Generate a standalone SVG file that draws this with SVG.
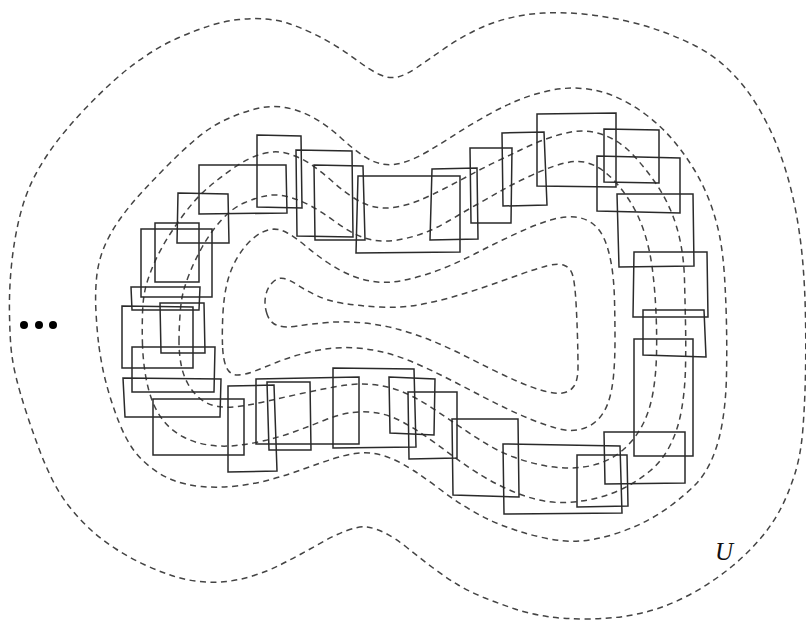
<svg xmlns="http://www.w3.org/2000/svg" width="806" height="621" viewBox="0 0 806 621">
<style>
.lvl{fill:none;stroke:#444;stroke-width:1.5;stroke-dasharray:6 4.5;}
.box{fill:none;stroke:#2a2a2a;stroke-width:1.5;stroke-linejoin:miter;}
.lbl{font-family:"Liberation Serif","DejaVu Serif",serif;font-style:italic;font-size:25px;fill:#111;}
</style>
<rect width="806" height="621" fill="#fff"/>
<g id="levels">
<path id="outer" class="lvl" d="M11.5,352.5 Q10,340 9.5,315 Q9,290 11.5,265 Q14,240 19.5,217.5 Q25,195 34,177.5 Q43,160 55,144 Q67,128 82.5,111.5 Q98,95 113.5,81 Q129,67 145.5,56 Q162,45 179,37.5 Q196,30 210.5,25.5 Q225,21 239,19.5 Q253,18 265.5,19 Q278,20 288.5,23.5 Q299,27 312,33 Q325,39 337.5,47 Q350,55 360,62.5 Q370,70 379.5,74.5 Q389,79 397.5,77 Q406,75 417,67.5 Q428,60 443,49.5 Q458,39 474,31 Q490,23 507.5,18.5 Q525,14 543.5,13 Q562,12 583,14 Q604,16 624,20.5 Q644,25 662,31.5 Q680,38 695.5,46 Q711,54 723,64.5 Q735,75 745.5,88.5 Q756,102 766.5,122.5 Q777,143 784.5,166.5 Q792,190 796.5,215 Q801,240 803,265 Q805,290 805.5,317.5 Q806,345 805.5,372.5 Q805,400 803,427.5 Q801,455 794.5,475 Q788,495 780,510 Q772,525 760,539 Q748,553 733,565.5 Q718,578 701.5,588 Q685,598 667.5,605 Q650,612 629.5,615.5 Q609,619 586.5,619 Q564,619 547,616.5 Q530,614 515,609 Q500,604 485,598 Q470,592 457.5,584.5 Q445,577 432.5,567.5 Q420,558 407.5,548 Q395,538 385,533 Q375,528 367,527 Q359,526 347,530.5 Q335,535 323.5,541.5 Q312,548 301,554 Q290,560 279,565.5 Q268,571 254,575.5 Q240,580 226.5,581.5 Q213,583 199,581.5 Q185,580 171.5,575.5 Q158,571 144,564.5 Q130,558 116,549 Q102,540 91,530 Q80,520 70,507.5 Q60,495 52.5,480 Q45,465 38.5,447.5 Q32,430 26,411.5 Q20,393 16.5,379 Q13,365 11.5,352.5 Z"/>
<path id="level2" class="lvl" d="M98.5,342.5 Q97,330 96,312.5 Q95,295 96.5,278.5 Q98,262 104,247.5 Q110,233 120,219 Q130,205 142.5,191.5 Q155,178 169,164 Q183,150 196.5,138.5 Q210,127 225,120 Q240,113 255,109 Q270,105 285,107.5 Q300,110 314,118 Q328,126 340,137 Q352,148 362,155 Q372,162 382,164 Q392,166 403.5,162.5 Q415,159 428.5,151 Q442,143 456,134 Q470,125 485,116.5 Q500,108 515,101.5 Q530,95 547.5,91 Q565,87 582.5,88.5 Q600,90 615,96.5 Q630,103 645,114 Q660,125 672,139 Q684,153 693.5,168.5 Q703,184 709.5,201 Q716,218 719.5,235.5 Q723,253 724.5,276.5 Q726,300 726.5,325 Q727,350 726.5,375 Q726,400 722.5,421.5 Q719,443 712,459 Q705,475 695,485 Q685,495 671,505.5 Q657,516 642.5,523 Q628,530 611.5,535 Q595,540 579.5,541 Q564,542 547,538.5 Q530,535 515,530 Q500,525 487.5,519 Q475,513 462.5,505 Q450,497 437.5,487.5 Q425,478 413.5,470.5 Q402,463 392.5,459 Q383,455 374,453.5 Q365,452 355,453.5 Q345,455 332.5,459 Q320,463 305,468.5 Q290,474 272.5,479 Q255,484 236.5,486 Q218,488 201.5,486.5 Q185,485 172.5,480 Q160,475 149,466 Q138,457 131.5,447 Q125,437 119.5,423.5 Q114,410 109.5,395 Q105,380 102.5,367.5 Q100,355 98.5,342.5 Z"/>
<path id="level3" class="lvl" d="M142.5,345 Q142,330 142.5,313.5 Q143,297 146,286 Q149,275 154.5,262.5 Q160,250 168.5,236.5 Q177,223 187.5,209.5 Q198,196 210,186 Q222,176 235,167 Q248,158 261.5,154 Q275,150 287.5,153.5 Q300,157 311,164.5 Q322,172 332.5,181.5 Q343,191 354,198 Q365,205 375,207 Q385,209 396.5,207 Q408,205 419,200.5 Q430,196 443.5,189 Q457,182 470,175 Q483,168 496.5,161.5 Q510,155 522.5,149 Q535,143 547.5,138.5 Q560,134 571,132 Q582,130 593,132 Q604,134 614.5,140 Q625,146 635,157 Q645,168 654.5,181.5 Q664,195 670.5,210 Q677,225 680.5,242.5 Q684,260 684.5,280 Q685,300 685.5,322.5 Q686,345 685.5,367.5 Q685,390 681.5,410 Q678,430 670,445.5 Q662,461 650,471 Q638,481 624,488 Q610,495 595,498.5 Q580,502 565,502.5 Q550,503 535,499 Q520,495 505,488 Q490,481 477.5,473 Q465,465 453.5,456.5 Q442,448 429.5,439 Q417,430 403.5,422.5 Q390,415 377.5,413 Q365,411 352.5,412.5 Q340,414 325,420 Q310,426 295,431.5 Q280,437 265,440.5 Q250,444 236,445.5 Q222,447 208.5,445 Q195,443 183.5,437 Q172,431 164.5,422 Q157,413 152.5,401.5 Q148,390 145.5,375 Q143,360 142.5,345 Z"/>
<path id="level4" class="lvl" d="M179,341.5 Q179,330 180,315 Q181,300 183.5,291 Q186,282 190.5,271 Q195,260 202.5,246.5 Q210,233 221,220.5 Q232,208 245,202.5 Q258,197 268,195.5 Q278,194 289,197 Q300,200 311,206 Q322,212 333.5,220.5 Q345,229 355,234 Q365,239 375,240.5 Q385,242 397.5,240 Q410,238 422.5,233.5 Q435,229 448.5,221 Q462,213 476,205 Q490,197 502.5,190 Q515,183 529,176.5 Q543,170 554.5,166 Q566,162 575.5,161.5 Q585,161 594.5,165.5 Q604,170 613.5,180 Q623,190 631,203 Q639,216 644.5,233 Q650,250 652.5,270 Q655,290 656,312.5 Q657,335 656.5,355 Q656,375 653,392.5 Q650,410 643,424 Q636,438 624.5,448.5 Q613,459 599,463.5 Q585,468 570,468 Q555,468 541,465 Q527,462 513.5,457 Q500,452 487.5,444.5 Q475,437 462.5,428.5 Q450,420 437.5,411.5 Q425,403 412.5,396.5 Q400,390 387.5,387 Q375,384 362.5,384 Q350,384 334,387 Q318,390 301.5,393.5 Q285,397 270,400.5 Q255,404 241.5,406 Q228,408 218,406.5 Q208,405 200.5,399 Q193,393 188,384 Q183,375 181,364 Q179,353 179,341.5 Z"/>
<path id="level5" class="lvl" d="M222.5,345 Q222,330 223,312.5 Q224,295 227.5,281.5 Q231,268 238,256.5 Q245,245 253.5,238 Q262,231 270,229.5 Q278,228 286.5,232.5 Q295,237 305,245.5 Q315,254 327.5,262.5 Q340,271 352.5,276 Q365,281 377.5,282 Q390,283 402.5,280.5 Q415,278 427.5,274 Q440,270 452.5,264.5 Q465,259 477.5,252.5 Q490,246 502.5,240 Q515,234 527.5,228.5 Q540,223 552.5,219.5 Q565,216 575,217 Q585,218 592.5,223.5 Q600,229 604.5,239.5 Q609,250 611.5,265 Q614,280 614.5,300 Q615,320 615,340 Q615,360 613.5,376 Q612,392 608,403 Q604,414 597,420.5 Q590,427 580,429.5 Q570,432 557.5,428.5 Q545,425 532.5,420 Q520,415 507.5,409 Q495,403 482.5,396.5 Q470,390 457.5,383.5 Q445,377 432.5,371 Q420,365 407.5,360 Q395,355 382.5,352 Q370,349 356.5,348 Q343,347 330,348.5 Q317,350 303.5,353.5 Q290,357 277.5,362 Q265,367 255,371 Q245,375 237.5,375 Q230,375 226.5,367.5 Q223,360 222.5,345 Z"/>
<path id="level6" class="lvl" d="M267,314 Q264,305 265.5,296.5 Q267,288 272.5,282.5 Q278,277 284,278.5 Q290,280 297.5,285 Q305,290 316.5,295.5 Q328,301 344,303.5 Q360,306 380,307 Q400,308 417.5,305 Q435,302 452.5,297 Q470,292 487.5,286 Q505,280 520,274.5 Q535,269 546.5,266 Q558,263 564.5,265.5 Q571,268 573,276.5 Q575,285 576,302.5 Q577,320 577.5,337.5 Q578,355 578,367.5 Q578,380 574,386 Q570,392 562.5,393 Q555,394 544,391 Q533,388 519,382 Q505,376 490,368.5 Q475,361 460,353.5 Q445,346 430,340 Q415,334 399,329.5 Q383,325 364,323 Q345,321 327.5,322.5 Q310,324 297.5,326 Q285,328 277.5,325.5 Q270,323 267,314 Z"/>
</g>
<g id="cover">
<polygon id="r1" class="box" points="199,165 286,165 287,213 199,214"/>
<polygon id="r2" class="box" points="257,135 301,136 302,208 257,207"/>
<polygon id="r3" class="box" points="296,150 352,151 353,237 297,236"/>
<polygon id="r4" class="box" points="314,165 363,166 365,240 315,240"/>
<polygon id="r5" class="box" points="358,176 460,176 460,252 356,253"/>
<polygon id="r6" class="box" points="432,169 477,168 478,239 430,240"/>
<polygon id="r7" class="box" points="470,148 512,148 511,223 471,223"/>
<polygon id="r8" class="box" points="502,133 544,132 547,205 503,206"/>
<polygon id="r9" class="box" points="537,114 616,113 616,187 537,186"/>
<polygon id="r10" class="box" points="604,129 659,130 659,183 604,182"/>
<polygon id="r11" class="box" points="597,156 680,158 680,213 597,211"/>
<polygon id="r12" class="box" points="617,194 693,194 694,266 619,267"/>
<polygon id="r13" class="box" points="634,252 707,252 708,317 633,317"/>
<polygon id="r14" class="box" points="643,310 704,310 706,357 643,355"/>
<polygon id="r15" class="box" points="634,339 693,339 693,456 634,456"/>
<polygon id="r16" class="box" points="604,432 685,432 685,483 605,484"/>
<polygon id="r17" class="box" points="577,455 627,455 628,506 577,507"/>
<polygon id="r18" class="box" points="503,444 620,446 622,513 504,514"/>
<polygon id="r19" class="box" points="452,419 518,419 519,497 453,495"/>
<polygon id="r20" class="box" points="408,392 457,392 457,458 409,459"/>
<polygon id="r21" class="box" points="389,377 435,379 434,435 390,433"/>
<polygon id="r22" class="box" points="333,368 414,369 416,447 333,448"/>
<polygon id="r23" class="box" points="267,382 310,382 311,450 269,450"/>
<polygon id="r24" class="box" points="256,379 359,377 359,444 256,444"/>
<polygon id="r25" class="box" points="228,386 274,385 277,471 228,472"/>
<polygon id="r26" class="box" points="153,399 244,399 244,455 153,455"/>
<polygon id="r27" class="box" points="123,378 221,379 220,417 125,417"/>
<polygon id="r28" class="box" points="132,347 215,347 214,392 132,392"/>
<polygon id="r29" class="box" points="160,303 204,303 205,353 161,353"/>
<polygon id="r30" class="box" points="122,306 193,307 193,368 122,368"/>
<polygon id="r31" class="box" points="131,287 200,287 199,310 132,310"/>
<polygon id="r32" class="box" points="141,229 212,229 212,297 141,297"/>
<polygon id="r33" class="box" points="155,223 199,223 199,282 155,282"/>
<polygon id="r34" class="box" points="178,193 228,194 229,243 177,243"/>
</g>
<g id="ellipsis" fill="#000">
<circle cx="24" cy="325" r="4"/>
<circle cx="39" cy="325" r="4"/>
<circle cx="53" cy="325" r="4"/>
</g>
<g id="label-U">
<text class="lbl" x="715" y="560">U</text>
</g>
</svg>
